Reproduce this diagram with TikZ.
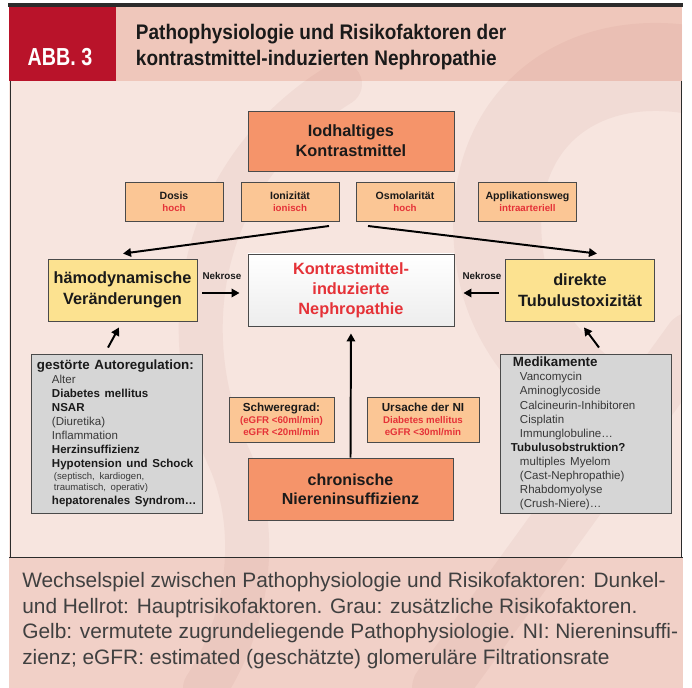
\documentclass[tikz,border=0pt]{standalone}
\usepackage{fontspec}
\setmainfont{Liberation Sans}
\newfontfamily\headfont[FakeStretch=0.9]{Liberation Sans}
\newfontfamily\abbfont[FakeStretch=0.8]{Liberation Sans}
\newfontfamily\capfont{Liberation Sans}
\usetikzlibrary{arrows.meta,positioning,calc}
\setlength{\parindent}{0pt}
\setlength{\parskip}{0pt}
\definecolor{Frame}{HTML}{2B2B2B}
\definecolor{AbbRed}{HTML}{B9132A}
\definecolor{HeadPink}{HTML}{EFC7BB}
\definecolor{PanelPink}{HTML}{F7E5DF}
\definecolor{CapPink}{HTML}{F1D0C7}
\definecolor{Salmon}{HTML}{F5946A}
\definecolor{Apricot}{HTML}{FBC695}
\definecolor{Butter}{HTML}{FCE290}
\definecolor{Ash}{HTML}{D6D6D6}
\definecolor{Edge}{HTML}{4A4A4A}
\definecolor{Alarm}{HTML}{E53238}
\definecolor{Ink}{HTML}{1A1A1A}
\definecolor{Mark}{HTML}{9A4A44}
\newcommand{\riskval}[1]{{\color{Alarm}\fontsize{6.9}{8.5}\selectfont #1}}
\newcommand{\boxhead}[2][0cm]{{\fontsize{9.5}{10}\selectfont\bfseries\hspace*{#1}\mbox{#2}\par}}
\newcommand{\bolditem}[2][0.375cm]{{\fontsize{8.2}{10}\selectfont\bfseries\hspace*{#1}\mbox{#2}\par}}
\newcommand{\thinitem}[2][0.375cm]{{\fontsize{8.2}{10}\selectfont\color{black!78}\hspace*{#1}\mbox{#2}\par}}
\newcommand{\tinyitem}[2]{{\fontsize{6.8}{#1}\selectfont\color{black!78}\hspace*{0.425cm}\mbox{#2}\par}}
\tikzset{
  mainbox/.style={draw=Edge,line width=0.6pt,fill=Salmon,minimum width=5.15cm,minimum height=1.5cm,align=center,font=\fontsize{11.6}{14.2}\selectfont\bfseries,text=Ink,inner sep=0pt},
  factorbox/.style={draw=Edge,line width=0.5pt,fill=Apricot,minimum width=2.45cm,minimum height=0.975cm,align=center,font=\fontsize{7.5}{8.5}\selectfont\bfseries,text=Ink,inner sep=0pt},
  mechbox/.style={draw=Edge,line width=0.6pt,fill=Butter,minimum width=3.725cm,minimum height=1.55cm,align=center,font=\fontsize{11.6}{15}\selectfont\bfseries,text=Ink,inner sep=0pt},
  riskbox/.style={draw=Edge,line width=0.6pt,fill=Ash,minimum height=3.975cm,align=left,text=Ink,inner ysep=0pt},
  tag/.style={font=\fontsize{7}{8}\selectfont\bfseries,text=Ink,inner sep=0pt},
  line/.style={-{Triangle[length=2mm,width=2.1mm]},draw=black,line width=1.4pt}
}

\begin{document}
\begin{tikzpicture}[x=0.025cm,y=-0.025cm]
  \useasboundingbox (0,0) rectangle (692,688);
  % page, header and panels
  \fill[white] (0,0) rectangle (692,688);
  \fill[PanelPink] (9,81) rectangle (682,557);
  \fill[CapPink] (9,557) rectangle (683,688);
  \fill[HeadPink] (116,7) rectangle (682,81);
  \fill[AbbRed] (9,7) rectangle (116,81);
  % faint watermark
  \begin{scope}
    \clip (116,7) rectangle (682,688);
    \begin{scope}[draw=Mark,opacity=0.06,line cap=round]
      \draw[line width=1.1cm] (340,84) .. controls (200,170) and (170,330) .. (230,460) .. controls (260,530) and (250,620) .. (205,688);
      \draw[line width=2.2cm] (692,70) .. controls (570,50) and (480,130) .. (500,260) .. controls (510,330) and (560,380) .. (620,420);
      \draw[line width=1.4cm] (692,340) -- (440,688);
    \end{scope}
  \end{scope}
  \fill[Frame] (8,3) rectangle (683,7);
  \draw[Frame,line width=0.6pt] (10,81) -- (10,557) (681,81) -- (681,557) (9,557) -- (683,557);

  % header text
  \node[text=white,font=\abbfont\fontsize{17.5}{20}\selectfont\bfseries] (abb) at (60,57.5) {ABB. 3};
  \node[anchor=west,align=left,text=Ink,font=\headfont\fontsize{15}{18.5}\selectfont\bfseries] (title) at (131,47) {Pathophysiologie und Risikofaktoren der\\kontrastmittel-induzierten Nephropathie};

  % contrast agent and its factors
  \node[mainbox] (iod) at (351,141) {Iodhaltiges\\Kontrastmittel};
  \node[factorbox] (dosis) at (174,202) {Dosis\\\riskval{hoch}};
  \node[factorbox] (ioniz) at (290,202) {Ionizität\\\riskval{ionisch}};
  \node[factorbox] (osmo) at (405,202) {Osmolarität\\\riskval{hoch}};
  \node[factorbox] (applik) at (527.5,202) {Applikationsweg\\\riskval{intraarteriell}};

  % mechanisms
  \node[mechbox] (haemo) at (122.5,290) {hämodynamische\\Veränderungen};
  \node[mainbox,minimum height=1.8cm,top color=white,bottom color=black!7,text=Alarm] (nephro) at (351,290) {Kontrastmittel-\\induzierte\\Nephropathie};
  \node[mechbox] (tubulus) at (580,290) {direkte\\Tubulustoxizität};
  \node[tag] (nekL) at (222,276) {Nekrose};
  \node[tag] (nekR) at (482,276) {Nekrose};

  % additional risk factors
  \node[riskbox,text width=3.975cm,inner xsep=0.15cm] (autoreg) at (116.5,433.5) {%
    \boxhead{gestörte Autoregulation:}
    \thinitem{Alter}
    \bolditem{Diabetes mellitus}
    \bolditem{NSAR}
    \thinitem{(Diuretika)}
    \thinitem{Inflammation}
    \bolditem{Herzinsuffizienz}
    \bolditem{Hypotension und Schock}
    \tinyitem{8.5pt}{(septisch, kardiogen,}
    \tinyitem{7.8pt}{traumatisch, operativ)}
    \bolditem{hepatorenales Syndrom…}};
  \node[riskbox,text width=3.725cm,inner xsep=0.275cm] (medik) at (585.5,433.5) {%
    \boxhead[0.05cm]{Medikamente}
    \thinitem[0.225cm]{Vancomycin}
    \thinitem[0.225cm]{Aminoglycoside}
    \thinitem[0.225cm]{Calcineurin-Inhibitoren}
    \thinitem[0.225cm]{Cisplatin}
    \thinitem[0.225cm]{Immunglobuline…}
    \bolditem[0cm]{Tubulusobstruktion?}
    \thinitem[0.225cm]{multiples Myelom}
    \thinitem[0.225cm]{(Cast-Nephropathie)}
    \thinitem[0.225cm]{Rhabdomyolyse}
    \thinitem[0.225cm]{(Crush-Niere)…}};

  % chronic kidney disease
  \node[factorbox,minimum width=2.625cm,minimum height=1.125cm,font=\fontsize{8.3}{8.5}\selectfont\bfseries] (schwere) at (281.5,419.5) {Schweregrad:\\\riskval{(eGFR <60ml/min)}\\\riskval{eGFR <20ml/min}};
  \node[factorbox,minimum width=2.8cm,minimum height=1.125cm,font=\fontsize{8.3}{8.5}\selectfont\bfseries] (ursache) at (423,419.5) {Ursache der NI\\\riskval{Diabetes mellitus}\\\riskval{eGFR <30ml/min}};
  \node[mainbox,minimum width=5.125cm,minimum height=1.55cm,font=\fontsize{11.4}{13.6}\selectfont\bfseries] (chron) at (350.5,489) {chronische\\Niereninsuffizienz};

  % connectors
  \coordinate (forkL) at (329,226);
  \coordinate (forkR) at (368,226);
  \draw[line] (forkL) -- ($(haemo.north)+(0.5,-5)$);
  \draw[line] (forkR) -- ($(tubulus.north)+(17,-5)$);
  \draw[line] ($(haemo.east)+(5,3)$) -- ($(nephro.west)+(-8,3)$);
  \draw[line] ($(tubulus.west)+(-6,3)$) -- ($(nephro.east)+(9,3)$);
  \draw[line] ($(autoreg.north)+(-8.5,-6)$) -- ($(haemo.south)+(-3.5,6)$);
  \draw[line] ($(medik.north)+(13.5,-6)$) -- ($(tubulus.south)+(4,6)$);
  \draw[line,shorten >=5pt] (chron.north) -- (nephro.south);

  % caption
  \node[anchor=north west,align=left,inner sep=0pt,text=black!75,font=\capfont\fontsize{14.85}{18.3}\selectfont] (caption) at (22,572) {Wechselspiel zwischen Pathophysiologie und Risikofaktoren: Dunkel-\\und Hellrot: Hauptrisikofaktoren. Grau: zusätzliche Risikofaktoren.\\Gelb: vermutete zugrundeliegende Pathophysiologie. NI: Niereninsuffi-\\zienz; eGFR: estimated (geschätzte) glomeruläre Filtrationsrate};
\end{tikzpicture}
\end{document}
